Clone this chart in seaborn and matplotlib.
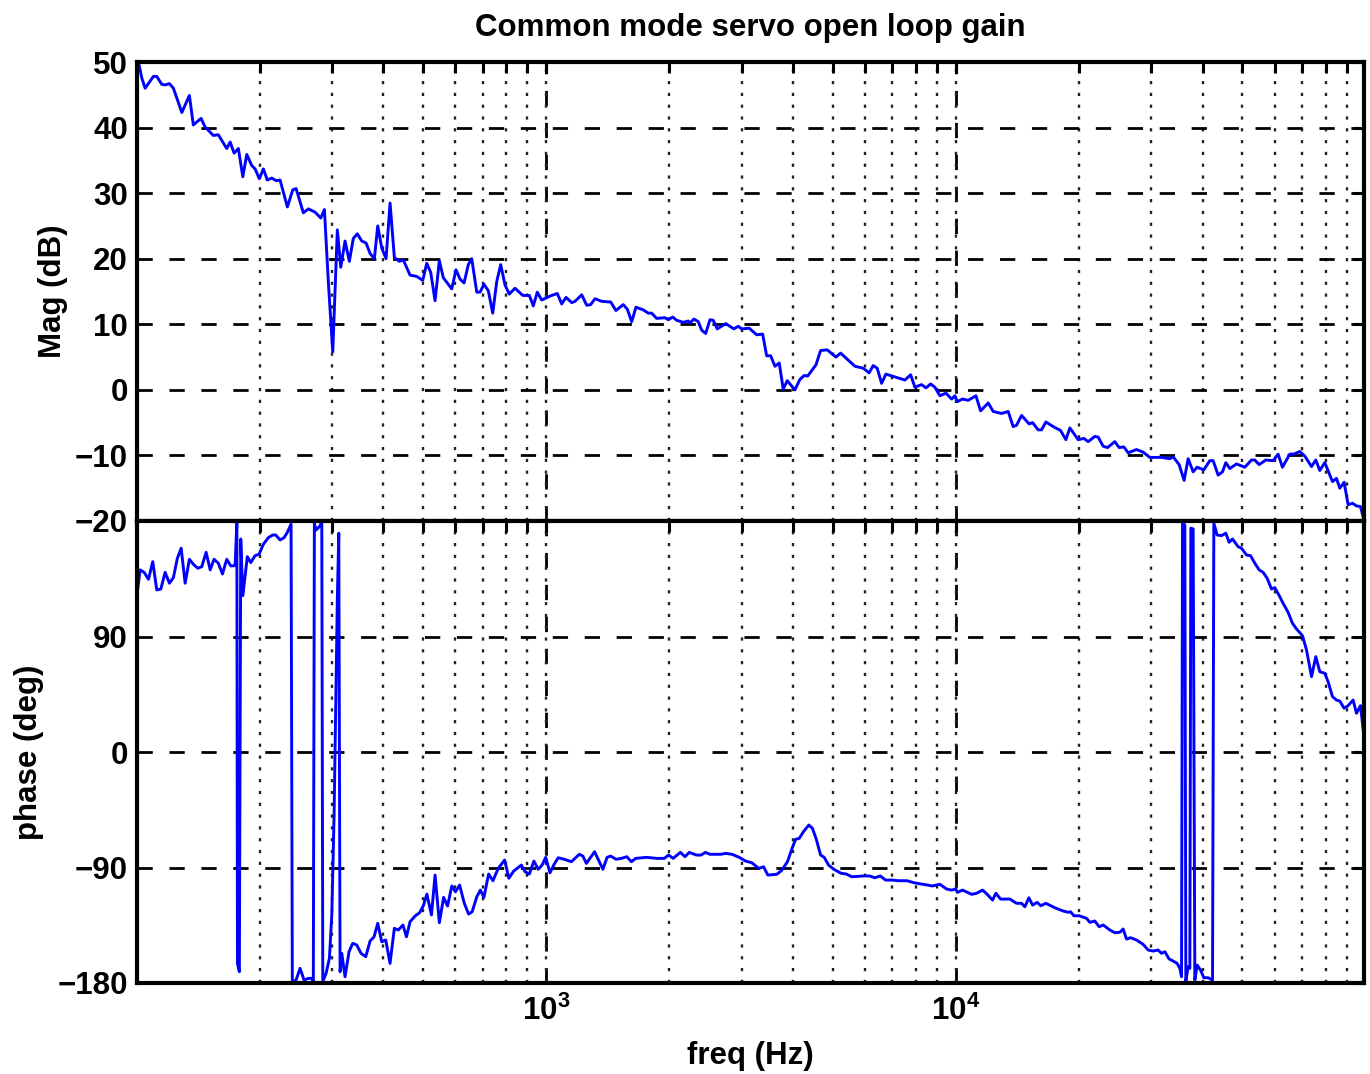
import matplotlib
matplotlib.use("Agg")
import matplotlib.pyplot as plt
import seaborn as sns
import pandas as pd
from matplotlib.ticker import LogLocator, FixedLocator, FixedFormatter, NullFormatter

# ---------------- data ----------------
mag_freq_hz = [
    101.1, 103.3, 105.2, 110.2, 112.3, 115.5, 117.7, 120.6, 123.3, 129.3,
    134.9, 137.9, 144.0, 147.3, 154.3, 158.7, 166.4, 169.6, 173.4, 177.6,
    182.1, 186.2, 191.5, 195.1, 199.8, 204.4, 209.0, 214.3, 219.5, 224.5,
    233.9, 241.1, 245.6, 255.9, 263.2, 273.3, 282.2, 288.0, 294.4, 301.8,
    309.7, 315.7, 323.4, 331.3, 338.8, 346.5, 355.2, 363.9, 372.2, 381.3,
    388.6, 397.5, 407.2, 416.4, 426.6, 438.7, 448.7, 465.9, 483.7, 500.4,
    511.7, 523.4, 536.2, 549.3, 561.7, 588.8, 603.2, 616.8, 631.0, 646.4,
    658.9, 677.7, 690.2, 706.0, 723.3, 741.3, 758.2, 775.4, 794.3, 813.7,
    840.2, 877.4, 910.6, 931.1, 952.3, 976.1, 1022.7, 1065.5, 1092.2, 1119,
    1155.5, 1177, 1222, 1257, 1285, 1317, 1368, 1438, 1481, 1543,
    1579, 1618, 1658, 1727, 1776, 1810, 1862, 1951, 1988, 2037,
    2084, 2162, 2224, 2245, 2296, 2352, 2398, 2452, 2512, 2559,
    2617, 2744, 2874, 2944, 3001, 3132, 3265, 3377, 3454, 3532,
    3619, 3707, 3791, 3877, 4048, 4164, 4266, 4348, 4555, 4677,
    4854, 5097, 5233, 5671, 5941, 6143, 6283, 6427, 6588, 6749,
    7508, 7755, 7943, 8248, 8450, 8676, 8887, 9141, 9454, 9761,
    9945, 10074, 10383, 10715, 11190, 11489, 11992, 12331, 12926, 13414,
    13796, 14060, 14461, 15093, 15385, 15874, 16181, 16577, 17271, 18006,
    18549, 18967, 19876, 20522, 21024, 21827, 22238, 22870, 23442, 24423,
    25019, 25691, 26314, 27585, 28626, 29727, 31747, 33266, 33884, 35044,
    36043, 36865, 37914, 38771, 40261, 41638, 42422, 43630, 44718, 45550,
    46589, 48372, 50686, 52625, 53615, 54927, 57024, 59408, 61101, 62624,
    65244, 66730, 69024, 70990, 73723, 75509, 77231, 79433, 82947, 84821,
    86417, 88534, 90535, 92811, 94907, 97074, 98878,
]
mag_db = [
    50.3, 47.5, 46.0, 47.8, 47.8, 46.6, 46.5, 46.7, 46.0, 42.3,
    44.9, 40.4, 41.4, 40.1, 38.8, 38.9, 36.8, 37.8, 36.1, 36.8,
    32.5, 35.9, 34.2, 33.7, 32.2, 33.7, 32.0, 32.3, 31.9, 32.0,
    27.9, 30.5, 30.7, 27.0, 27.6, 27.1, 26.2, 27.5, 16.5, 5.8,
    24.4, 18.7, 22.7, 19.6, 23.1, 23.8, 22.7, 22.4, 20.8, 20.0,
    25.0, 21.6, 20.0, 28.5, 20.2, 19.6, 19.8, 17.5, 17.3, 16.7,
    19.3, 17.9, 13.6, 19.7, 17.1, 15.4, 18.3, 16.9, 16.3, 19.1,
    20.0, 14.9, 14.9, 16.1, 15.1, 11.7, 16.5, 19.1, 16.0, 14.6,
    15.5, 14.4, 14.4, 12.8, 14.9, 13.7, 14.3, 14.7, 13.1, 14.1,
    13.3, 13.5, 14.5, 12.9, 13.0, 13.9, 13.5, 13.4, 12.1, 13.0,
    12.3, 10.4, 12.6, 12.2, 11.7, 11.7, 10.9, 11.0, 10.7, 11.1,
    10.6, 10.3, 10.5, 10.2, 10.8, 10.4, 9.1, 8.6, 10.7, 10.6,
    9.3, 10.1, 9.3, 9.7, 9.3, 9.4, 8.4, 8.5, 5.2, 5.2,
    3.6, 4.1, 0.1, 1.4, 0.0, 1.6, 2.2, 2.1, 3.8, 6.0,
    6.1, 5.0, 5.6, 3.6, 3.3, 2.6, 3.7, 3.3, 1.0, 2.4,
    1.5, 2.3, 0.4, 0.8, 0.3, 0.9, 0.4, -0.9, -0.5, -1.4,
    -0.9, -1.8, -1.4, -1.6, -0.9, -3.2, -2.0, -3.3, -3.6, -3.3,
    -5.6, -5.4, -3.9, -5.2, -5.0, -6.1, -6.1, -4.9, -5.6, -6.2,
    -7.6, -5.8, -7.6, -7.4, -7.9, -7.1, -7.2, -8.6, -8.8, -7.9,
    -8.8, -8.7, -9.6, -9.1, -9.5, -10.3, -10.3, -10.5, -10.2, -11.4,
    -13.8, -10.5, -12.5, -11.8, -12.2, -10.8, -10.8, -13.0, -12.5, -11.1,
    -12.0, -11.3, -11.8, -10.7, -10.7, -11.4, -10.7, -10.8, -9.8, -11.8,
    -9.8, -9.8, -9.4, -10.1, -11.7, -10.7, -12.3, -11.1, -14.0, -13.5,
    -15.0, -14.1, -17.5, -17.3, -17.7, -17.8, -19.8,
]

phase_freq_hz = [
    100.6, 102.3, 104.6, 107.2, 109.8, 112.3, 114.9, 117.7, 120.6, 123.3,
    126.1, 128.8, 131.7, 134.9, 137.9, 141.4, 144.6, 148.2, 151.6, 154.9,
    158.7, 162.4, 166.4, 170.2, 174.4, 176.1, 176.7, 178.6, 180.0, 182.1,
    186.8, 190.4, 195.1, 199.5, 204.4, 210.2, 215.4, 219.1, 224.5, 229.6,
    233.9, 238.8, 240.5, 245.6, 251.2, 256.9, 263.2, 268.2, 270.6, 272.2,
    274.8, 280.0, 283.8, 285.4, 290.7, 296.2, 300.2, 304.1, 307.5, 309.7,
    312.2, 314.5, 317.5, 323.4, 330.7, 337.7, 345.4, 353.8, 363.3, 372.2,
    380.6, 388.6, 397.5, 406.4, 416.4, 426.6, 436.3, 447.7, 456.6, 465.9,
    479.2, 491.7, 501.8, 512.1, 525.5, 536.2, 549.3, 562.6, 575.2, 589.1,
    601.2, 615.5, 632.0, 647.4, 660.4, 677.9, 691.8, 705.5, 724.4, 742.2,
    764.6, 792.5, 811.8, 833.7, 871.0, 888.8, 910.6, 934.3, 957.2, 978.3,
    998.3, 1022.7, 1047.7, 1070.9, 1108.3, 1153.4, 1205.6, 1230.3, 1254.6, 1313.9,
    1376.7, 1409.3, 1438, 1482.5, 1527, 1574.5, 1615.6, 1655.1, 1757.4, 1866.4,
    1943.3, 1990.8, 2042.8, 2127.3, 2182.8, 2236.2, 2327.1, 2389.6, 2448, 2512,
    2668, 2744, 2843.6, 2961, 3069.3, 3176.4, 3306, 3394, 3477, 3656,
    3751, 3882, 3984, 4064, 4147, 4248, 4377, 4467, 4558, 4677,
    4773, 4890, 5038, 5246, 5404, 5570, 5974, 6155, 6344, 6539,
    6737, 7016, 7228, 7597, 7912, 8235, 8541, 8744, 8957, 9141,
    9491, 9761, 10000, 10074, 10383, 10922, 11233, 11617, 11920, 12289,
    12520, 12853, 13541, 14060, 14461, 14734, 15066, 15385, 15786, 16117,
    16577, 17440, 18269, 18790, 19046, 19400, 19984, 20834, 21222, 21827,
    22361, 22870, 23746, 24423, 25119, 25585, 26080, 26675, 27585, 28626,
    29441, 30280, 31143, 31747, 32342, 33128, 33884, 34650, 35182, 35522,
    35720, 36184, 36392, 36865, 37219, 37434, 37914, 38277, 38771, 39517,
    40261, 41247, 42276, 42589, 43380, 44463, 45550, 46407, 47302, 48808,
    49749, 51168, 52335, 53615, 54927, 56165, 57446, 58884, 59979, 61681,
    62840, 64630, 66240, 67764, 70080, 71680, 73723, 75509, 77231, 79433,
    80910, 82947, 84821, 86417, 88534, 90535, 93111, 94907, 97074, 98878,
]
phase_deg = [
    123.7, 141.9, 140.0, 134.6, 148.3, 126.3, 127.0, 140.0, 131.5, 135.9,
    151.0, 158.8, 131.5, 150.2, 146.3, 143.2, 144.4, 155.6, 141.9, 150.2,
    147.1, 138.7, 150.2, 145.0, 145.2, 178.3, -164.7, -171.2, 166.0, 121.8,
    152.2, 147.6, 153.0, 154.1, 161.9, 167.0, 169.1, 169.1, 165.2, 167.0,
    171.2, 177.5, -179.0, -177.7, -168.6, -177.7, -176.4, -176.4, -179.0, 178.3,
    173.0, 175.6, 179.0, -179.0, -172.5, -160.8, -127.0, -49.0, 54.8, 119.8,
    170.5, -171.2, -156.9, -175.1, -155.6, -149.1, -150.4, -156.9, -159.5, -147.3,
    -144.0, -133.5, -147.9, -146.5, -164.7, -137.4, -138.7, -134.8, -144.0, -132.3,
    -127.8, -125.2, -120.0, -110.7, -127.0, -95.9, -133.0, -113.3, -120.0, -104.4,
    -108.9, -103.7, -117.9, -126.3, -124.5, -112.8, -107.6, -113.3, -95.1, -100.3,
    -90.7, -84.2, -98.4, -92.8, -88.1, -93.3, -95.1, -85.0, -91.4, -88.1,
    -82.1, -94.1, -87.3, -82.4, -83.6, -85.5, -79.7, -81.1, -86.8, -77.7,
    -91.4, -82.1, -81.1, -83.6, -82.9, -81.6, -85.5, -82.9, -82.1, -82.9,
    -82.9, -80.3, -82.9, -78.2, -81.6, -78.2, -80.3, -80.3, -78.2, -79.7,
    -79.7, -79.0, -79.7, -82.1, -85.0, -86.3, -90.7, -89.4, -95.9, -95.3,
    -92.5, -85.5, -75.1, -68.0, -67.3, -62.1, -56.9, -59.5, -67.3, -80.3,
    -82.1, -88.1, -91.4, -94.5, -95.1, -97.2, -96.6, -96.6, -98.0, -96.6,
    -99.8, -99.8, -100.3, -100.3, -101.9, -102.9, -103.7, -104.4, -103.7, -103.1,
    -106.8, -107.6, -106.8, -109.4, -107.6, -110.9, -110.1, -107.6, -110.9, -115.4,
    -110.1, -114.6, -114.6, -117.9, -117.9, -120.6, -113.6, -119.3, -117.2, -119.8,
    -117.9, -121.4, -123.9, -124.9, -124.5, -127.6, -127.6, -129.6, -132.7, -131.7,
    -136.2, -134.8, -138.7, -140.8, -140.5, -137.9, -145.8, -144.7, -146.5, -149.9,
    -154.3, -155.1, -154.3, -156.9, -155.6, -161.3, -162.9, -164.7, -168.6, -175.1,
    178.3, 176.9, -178.5, -167.3, -168.6, 174.4, 173.8, -177.7, -166.0, -169.9,
    -175.9, -175.9, -177.7, 178.3, 169.1, 168.6, 170.5, 163.4, 166.0, 160.0,
    158.8, 153.5, 153.0, 147.1, 141.9, 140.0, 135.4, 127.0, 128.1, 121.0,
    115.9, 108.9, 100.3, 95.9, 90.6, 79.5, 58.7, 74.3, 62.6, 61.3,
    54.8, 43.1, 40.5, 39.7, 34.1, 36.1, 40.5, 30.2, 36.1, 13.3,
]

mag_ticks = [-20, -10, 0, 10, 20, 30, 40, 50]
phase_ticks = [-180, -90, 0, 90]
freq_ticks = [1e3, 1e4]
freq_tick_labels = [r"$\mathbf{10^{3}}$", r"$\mathbf{10^{4}}$"]
title_text = "Common mode servo open loop gain"
mag_label = "Mag (dB)"
phase_label = "phase (deg)"
freq_label = "freq (Hz)"

# ---------------- style ----------------
sns.set_style("white")
plt.rcParams["font.family"] = ["Liberation Sans", "DejaVu Sans"]
plt.rcParams["font.weight"] = "bold"
plt.rcParams["axes.labelweight"] = "bold"
plt.rcParams["axes.titleweight"] = "bold"
plt.rcParams["text.color"] = "black"
plt.rcParams["axes.labelcolor"] = "black"
plt.rcParams["xtick.color"] = "black"
plt.rcParams["ytick.color"] = "black"
plt.rcParams["axes.unicode_minus"] = True
plt.rcParams["mathtext.fontset"] = "custom"
plt.rcParams["mathtext.rm"] = "Liberation Sans:bold"
plt.rcParams["mathtext.bf"] = "Liberation Sans:bold"
plt.rcParams["mathtext.it"] = "Liberation Sans:bold"
plt.rcParams["lines.scale_dashes"] = False

FS = 22.5
LINE_COLOR = "#0000ff"


def tick_text(v):
    return str(v).replace("-", "\u2212")


mag_df = pd.DataFrame({"freq": mag_freq_hz, "mag": mag_db})
phase_df = pd.DataFrame({"freq": phase_freq_hz, "phase": phase_deg})

fig = plt.figure(figsize=(13.7, 10.74), dpi=100)
W = 1370.0
H = 1074.0
left = 137 / W
width = (1364 - 137) / W
ax1 = fig.add_axes([left, 1 - 521 / H, width, (521 - 62) / H])
ax2 = fig.add_axes([left, 1 - 983 / H, width, (983 - 521) / H], sharex=ax1)

sns.lineplot(data=mag_df, x="freq", y="mag", ax=ax1, color=LINE_COLOR,
             linewidth=2.1, estimator=None, sort=False, zorder=3)
sns.lineplot(data=phase_df, x="freq", y="phase", ax=ax2, color=LINE_COLOR,
             linewidth=2.1, estimator=None, sort=False, zorder=3)

for ax in (ax1, ax2):
    ax.set_xscale("log")
    ax.set_xlim(100.5, 99000)
    ax.xaxis.set_major_locator(FixedLocator(freq_ticks))
    ax.xaxis.set_minor_locator(LogLocator(base=10, subs=range(1, 10), numticks=50))
    ax.xaxis.set_minor_formatter(NullFormatter())
    ax.xaxis.remove_overlapping_locs = False
    ax.grid(True, which="major", axis="both", color="black",
            linestyle=(0, (11, 12)), linewidth=2.0, zorder=1)
    ax.grid(True, which="minor", axis="x", color="#222222",
            linestyle=(0, (2.3, 6.2)), linewidth=1.7, zorder=1)
    ax.tick_params(which="both", direction="in", top=True, right=True,
                   width=2.2, length=8, color="black", labelsize=FS,
                   labelcolor="black")
    ax.tick_params(axis="y", pad=6.5)
    ax.tick_params(axis="x", pad=9)
    for s in ax.spines.values():
        s.set_linewidth(3.0)
        s.set_color("black")
        s.set_zorder(5)
    ax.set_facecolor("white")

ax1.set_ylim(-20, 50)
ax1.set_yticks(mag_ticks)
ax1.set_yticklabels([tick_text(t) for t in mag_ticks])
ax1.tick_params(axis="x", labelbottom=False)
ax1.set_xlabel("")
ax1.set_ylabel(mag_label, fontsize=FS, fontweight="bold", color="black")
ax1.yaxis.set_label_coords(-0.056, 0.5)
ax1.set_title(title_text, fontsize=FS, fontweight="bold", pad=19, color="black")

ax2.set_ylim(-180, 180)
ax2.set_yticks(phase_ticks)
ax2.set_yticklabels([tick_text(t) for t in phase_ticks])
ax2.xaxis.set_major_formatter(FixedFormatter(freq_tick_labels))
ax2.set_ylabel(phase_label, fontsize=FS, fontweight="bold", color="black")
ax2.yaxis.set_label_coords(-0.076, 0.5)
ax2.set_xlabel(freq_label, fontsize=FS, fontweight="bold", color="black")
ax2.xaxis.set_label_coords(0.5, -0.125)

fig.savefig("out.png", dpi=100, facecolor="white")
